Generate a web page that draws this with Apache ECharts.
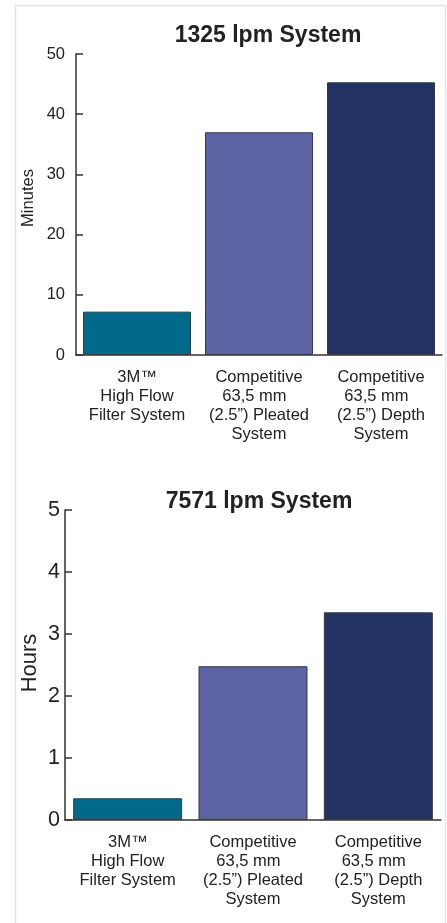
<!DOCTYPE html>
<html>
<head>
<meta charset="utf-8">
<title>Filter change-out time</title>
<script src="https://cdn.jsdelivr.net/npm/echarts@6/dist/echarts.min.js"></script>
<style>
  html, body { margin: 0; padding: 0; background: #ffffff; }
  #chart { width: 447px; height: 923px; }
</style>
</head>
<body>
<div id="chart"></div>
<script>
// Systems compared in both panels
const categories = [
  '3M\u2122\nHigh Flow\nFilter System',
  'Competitive\n63,5 mm  \n(2.5\u201d) Pleated\nSystem',
  'Competitive\n63,5 mm  \n(2.5\u201d) Depth\nSystem'
];

// 1325 lpm system, minutes
const minutesValues = [7.2, 37, 45.3];
const minutesTicks = [0, 10, 20, 30, 40, 50];

// 7571 lpm system, hours
const hoursValues = [0.35, 2.48, 3.35];
const hoursTicks = [0, 1, 2, 3, 4, 5];

const barColors = ['#016a8b', '#5b63a3', '#213263'];

const face = 'Liberation Sans';
const ink = '#222222';

function coloredData(values) {
  return values.map((v, i) => ({
    value: v,
    itemStyle: { color: barColors[i], borderColor: '#3a3a3a', borderWidth: 1 }
  }));
}

function yAxis(gridIndex, ticks, name, fontSize, nameSize, labelMargin, nameGap, namePad) {
  return {
    type: 'value',
    gridIndex: gridIndex,
    min: ticks[0],
    max: ticks[ticks.length - 1],
    interval: ticks[1] - ticks[0],
    name: name,
    nameLocation: 'middle',
    nameGap: nameGap,
    nameMoveOverlap: false,
    nameTextStyle: { fontFamily: face, fontSize: nameSize, color: ink, padding: namePad },
    axisLine: { show: true, lineStyle: { color: '#333333', width: 1.5 } },
    axisTick: { show: true, inside: true, length: 7, lineStyle: { color: '#333333', width: 1.5 } },
    axisLabel: { fontFamily: face, fontSize: fontSize, color: ink, margin: labelMargin },
    splitLine: { show: false }
  };
}

function xAxis(gridIndex) {
  return {
    type: 'category',
    gridIndex: gridIndex,
    data: categories,
    axisLine: { show: true, lineStyle: { color: '#333333', width: 1.5 } },
    axisTick: { show: false },
    axisLabel: {
      fontFamily: face, fontSize: 16.5, lineHeight: 19, color: ink,
      margin: 13, interval: 0, align: 'center'
    }
  };
}

const chart = echarts.init(document.getElementById('chart'), null, { renderer: 'canvas' });

chart.setOption({
  backgroundColor: '#ffffff',
  animation: false,
  title: [
    {
      text: '1325 lpm System', left: 263, top: 19, textAlign: 'center',
      textStyle: { fontFamily: face, fontWeight: 'bold', fontSize: 23, color: ink }
    },
    {
      text: '7571 lpm System', left: 254, top: 485, textAlign: 'center',
      textStyle: { fontFamily: face, fontWeight: 'bold', fontSize: 23, color: ink }
    }
  ],
  graphic: [
    {
      type: 'rect',
      shape: { x: 15.5, y: 5.5, width: 430, height: 940 },
      style: { fill: 'none', stroke: '#dde5ec', lineWidth: 1.5 },
      silent: true
    }
  ],
  grid: [
    { left: 76, top: 54, width: 366, height: 301 },
    { left: 65, top: 510, width: 376, height: 310 }
  ],
  xAxis: [xAxis(0), xAxis(1)],
  yAxis: [
    yAxis(0, minutesTicks, 'Minutes', 16.5, 16.5, 11, 39, [0, 0, 0, 13]),
    yAxis(1, hoursTicks, 'Hours', 21.5, 22, 5, 24, [0, 0, 0, 4])
  ],
  series: [
    {
      type: 'bar', xAxisIndex: 0, yAxisIndex: 0,
      barWidth: 108, data: coloredData(minutesValues)
    },
    {
      type: 'bar', xAxisIndex: 1, yAxisIndex: 1,
      barWidth: 109, data: coloredData(hoursValues)
    }
  ]
});
</script>
</body>
</html>
